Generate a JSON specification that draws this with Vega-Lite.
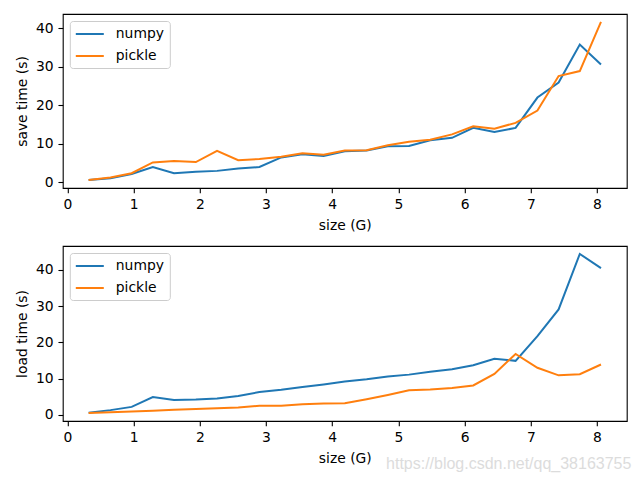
{
  "$schema": "https://vega.github.io/schema/vega-lite/v6.json",
  "background": "white",
  "padding": {"left": 14.8, "top": 13, "right": 14, "bottom": 5},
  "bounds": "flush",
  "spacing": 58,
  "title": {"text": "https://blog.csdn.net/qq_38163755", "orient": "bottom", "anchor": "end", "offset": -10, "dx": 4, "color": "#dcdcdc", "fontSize": 16, "font": "Liberation Sans", "fontWeight": "normal"},
  "datasets": {
    "d": [
      {"size": 0.32, "method": "numpy", "save": 0.5, "load": 0.6},
      {"size": 0.65, "method": "numpy", "save": 1.0, "load": 1.3},
      {"size": 0.97, "method": "numpy", "save": 2.1, "load": 2.2},
      {"size": 1.29, "method": "numpy", "save": 3.9, "load": 4.9},
      {"size": 1.61, "method": "numpy", "save": 2.3, "load": 4.1},
      {"size": 1.94, "method": "numpy", "save": 2.7, "load": 4.2},
      {"size": 2.26, "method": "numpy", "save": 2.9, "load": 4.5},
      {"size": 2.58, "method": "numpy", "save": 3.5, "load": 5.2},
      {"size": 2.90, "method": "numpy", "save": 3.9, "load": 6.3},
      {"size": 3.23, "method": "numpy", "save": 6.4, "load": 6.9},
      {"size": 3.55, "method": "numpy", "save": 7.2, "load": 7.7},
      {"size": 3.87, "method": "numpy", "save": 6.8, "load": 8.4},
      {"size": 4.19, "method": "numpy", "save": 8.0, "load": 9.2},
      {"size": 4.52, "method": "numpy", "save": 8.2, "load": 9.8},
      {"size": 4.84, "method": "numpy", "save": 9.3, "load": 10.6},
      {"size": 5.16, "method": "numpy", "save": 9.4, "load": 11.1},
      {"size": 5.48, "method": "numpy", "save": 10.9, "load": 11.9},
      {"size": 5.81, "method": "numpy", "save": 11.5, "load": 12.6},
      {"size": 6.13, "method": "numpy", "save": 14.1, "load": 13.7},
      {"size": 6.45, "method": "numpy", "save": 13.0, "load": 15.5},
      {"size": 6.77, "method": "numpy", "save": 14.1, "load": 14.9},
      {"size": 7.10, "method": "numpy", "save": 22.0, "load": 21.7},
      {"size": 7.42, "method": "numpy", "save": 25.9, "load": 29.1},
      {"size": 7.74, "method": "numpy", "save": 35.8, "load": 44.4},
      {"size": 8.06, "method": "numpy", "save": 30.6, "load": 40.5},
      {"size": 0.32, "method": "pickle", "save": 0.5, "load": 0.5},
      {"size": 0.65, "method": "pickle", "save": 1.2, "load": 0.7},
      {"size": 0.97, "method": "pickle", "save": 2.3, "load": 0.9},
      {"size": 1.29, "method": "pickle", "save": 5.1, "load": 1.1},
      {"size": 1.61, "method": "pickle", "save": 5.5, "load": 1.4},
      {"size": 1.94, "method": "pickle", "save": 5.2, "load": 1.6},
      {"size": 2.26, "method": "pickle", "save": 8.1, "load": 1.8},
      {"size": 2.58, "method": "pickle", "save": 5.7, "load": 2.0},
      {"size": 2.90, "method": "pickle", "save": 6.0, "load": 2.5},
      {"size": 3.23, "method": "pickle", "save": 6.6, "load": 2.5},
      {"size": 3.55, "method": "pickle", "save": 7.5, "load": 2.9},
      {"size": 3.87, "method": "pickle", "save": 7.1, "load": 3.1},
      {"size": 4.19, "method": "pickle", "save": 8.2, "load": 3.2},
      {"size": 4.52, "method": "pickle", "save": 8.3, "load": 4.3},
      {"size": 4.84, "method": "pickle", "save": 9.6, "load": 5.5},
      {"size": 5.16, "method": "pickle", "save": 10.5, "load": 6.8},
      {"size": 5.48, "method": "pickle", "save": 11.0, "load": 7.0},
      {"size": 5.81, "method": "pickle", "save": 12.4, "load": 7.4},
      {"size": 6.13, "method": "pickle", "save": 14.5, "load": 8.1},
      {"size": 6.45, "method": "pickle", "save": 13.9, "load": 11.3},
      {"size": 6.77, "method": "pickle", "save": 15.4, "load": 16.8},
      {"size": 7.10, "method": "pickle", "save": 18.6, "load": 13.0},
      {"size": 7.42, "method": "pickle", "save": 27.6, "load": 10.9},
      {"size": 7.74, "method": "pickle", "save": 28.9, "load": 11.2},
      {"size": 8.06, "method": "pickle", "save": 41.7, "load": 13.9}
    ]
  },
  "vconcat": [
    {
      "width": 564,
      "height": 174,
      "data": {"name": "d"},
      "mark": {"type": "line", "strokeWidth": 2},
      "encoding": {
        "x": {"field": "size", "type": "quantitative", "title": "size (G)", "scale": {"domain": [-0.07, 8.45], "nice": false, "zero": false}, "axis": {"values": [0, 1, 2, 3, 4, 5, 6, 7, 8], "titlePadding": 7}},
        "y": {"field": "save", "type": "quantitative", "title": "save time (s)", "scale": {"domain": [-1.56, 43.76], "nice": false}, "axis": {"values": [0, 10, 20, 30, 40], "titlePadding": 5.5}},
        "color": {"field": "method", "type": "nominal", "scale": {"domain": ["numpy", "pickle"], "range": ["#1f77b4", "#ff7f0e"]}, "legend": {"title": null}}
      }
    },
    {
      "width": 564,
      "height": 175,
      "data": {"name": "d"},
      "mark": {"type": "line", "strokeWidth": 2},
      "encoding": {
        "x": {"field": "size", "type": "quantitative", "title": "size (G)", "scale": {"domain": [-0.07, 8.45], "nice": false, "zero": false}, "axis": {"values": [0, 1, 2, 3, 4, 5, 6, 7, 8], "titlePadding": 7}},
        "y": {"field": "load", "type": "quantitative", "title": "load time (s)", "scale": {"domain": [-1.7, 46.6], "nice": false}, "axis": {"values": [0, 10, 20, 30, 40], "titlePadding": 5.5}},
        "color": {"field": "method", "type": "nominal", "scale": {"domain": ["numpy", "pickle"], "range": ["#1f77b4", "#ff7f0e"]}, "legend": {"title": null}}
      }
    }
  ],
  "resolve": {"scale": {"color": "independent"}, "legend": {"color": "independent"}},
  "config": {
    "view": {"stroke": "black", "strokeWidth": 1.1},
    "axis": {"grid": false, "domain": false, "ticks": true, "tickColor": "black", "tickSize": 4.86, "tickWidth": 1.1, "labelFont": "DejaVu Sans", "labelFontSize": 13.9, "labelColor": "black", "labelPadding": 4.86, "titleFont": "DejaVu Sans", "titleFontSize": 13.9, "titleFontWeight": "normal", "titleColor": "black"},
    "legend": {"orient": "top-left", "offset": 7, "fillColor": "white", "strokeColor": "#cccccc", "cornerRadius": 3, "padding": 5, "symbolType": "M-1,0H3", "symbolSize": 196, "symbolStrokeWidth": 2, "labelFont": "DejaVu Sans", "labelFontSize": 13.9, "labelColor": "black", "labelOffset": 25, "rowPadding": 7}
  }
}
